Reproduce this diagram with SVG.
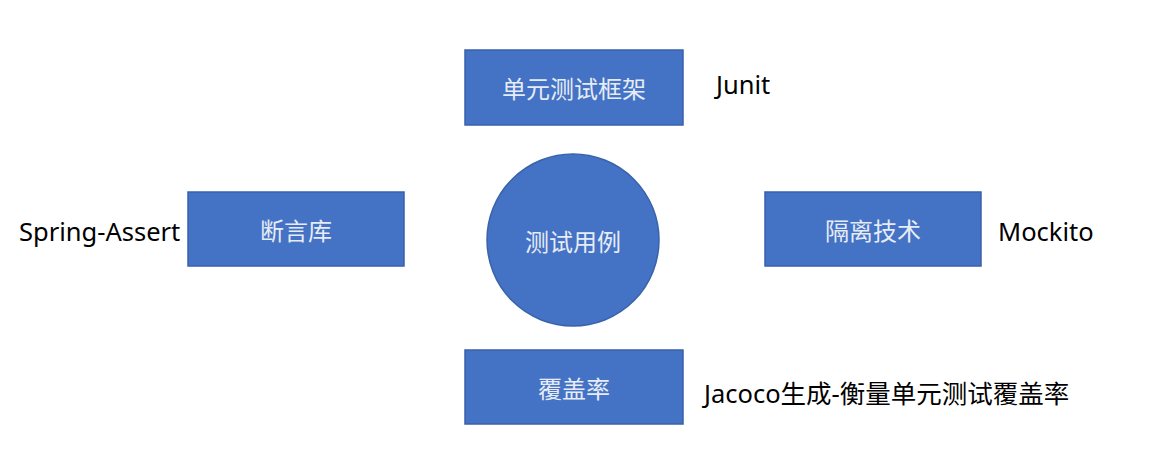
<svg xmlns="http://www.w3.org/2000/svg" width="1164" height="471" viewBox="0 0 1164 471">
<style>
.box{fill:#4472C4;stroke:#3A62AA;stroke-width:1.5}
.bt{font-family:"Noto Sans CJK SC","Noto Sans",sans-serif;font-size:24px;fill:#E6ECF6;text-anchor:middle;dominant-baseline:central}
.lb{font-family:"Noto Sans","Noto Sans CJK SC",sans-serif;font-size:25.5px;fill:#000}
</style>
<rect width="1164" height="471" fill="#fff"/>
<g id="connectors"></g>
<g id="n-framework"><rect class="box" x="465" y="50" width="218" height="75"/><text class="bt" x="574" y="87">单元测试框架</text></g>
<g id="n-assert"><rect class="box" x="188" y="192" width="216" height="74"/><text class="bt" x="296" y="229">断言库</text></g>
<g id="n-isolation"><rect class="box" x="765" y="192" width="216" height="74"/><text class="bt" x="873" y="229">隔离技术</text></g>
<g id="n-coverage"><rect class="box" x="465" y="350" width="218" height="74"/><text class="bt" x="574" y="387">覆盖率</text></g>
<g id="n-testcase"><circle class="box" cx="573" cy="240" r="86"/><text class="bt" x="573" y="240">测试用例</text></g>
<g id="labels">
<text class="lb" x="716" y="94">Junit</text>
<text class="lb" x="19" y="241">Spring-Assert</text>
<text class="lb" x="998" y="241">Mockito</text>
<text class="lb" x="704" y="403">Jacoco生成-衡量单元测试覆盖率</text>
</g>
</svg>
